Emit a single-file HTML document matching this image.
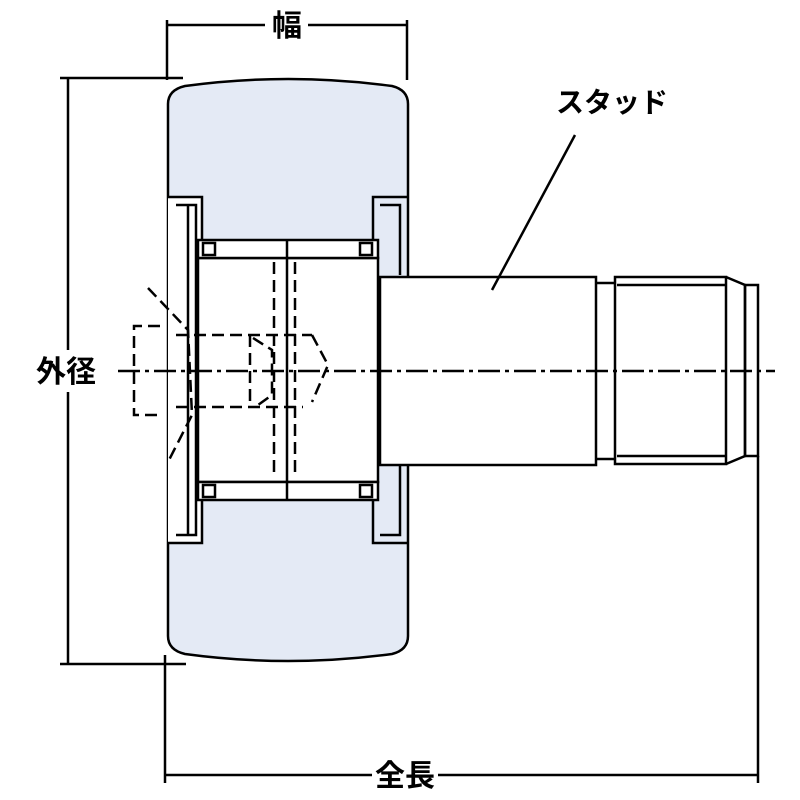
<!DOCTYPE html>
<html><head><meta charset="utf-8"><style>html,body{margin:0;padding:0;background:#fff}svg{display:block}</style></head>
<body>
<svg width="800" height="800" viewBox="0 0 800 800" xmlns="http://www.w3.org/2000/svg">
<g fill="none" stroke="#000" stroke-width="2.5">
<!-- roller -->
<path d="M168,104 Q168,90 185,86 Q288,72 392,86 Q408,90 408,104 L408,636 Q408,650 392,654 Q288,668 185,654 Q168,650 168,636 Z" fill="#e4eaf5"/>
<!-- left flange -->
<rect x="168" y="197" width="34" height="346" fill="#fff" stroke="none"/>
<path d="M168,197 L202,197 L202,543 L168,543"/>
<line x1="188" y1="205" x2="188" y2="535"/>
<path d="M176,205 L196,205 L196,535 L176,535"/>
<!-- inner bore white -->
<rect x="198" y="258" width="180" height="224" fill="#fff"/>
<!-- right flange -->
<path d="M408,197 L373,197 L373,258 M373,482 L373,543 L408,543"/>
<path d="M380,205 L400,205 L400,275 M400,465 L400,535 L380,535"/>
<!-- cage rows -->
<rect x="198" y="240" width="180" height="18" fill="#fff"/>
<rect x="198" y="482" width="180" height="18" fill="#fff"/>
<rect x="203" y="243" width="12" height="12"/><rect x="360" y="243" width="12" height="12"/>
<rect x="203" y="485" width="12" height="12"/><rect x="360" y="485" width="12" height="12"/>
<line x1="287" y1="240" x2="287" y2="500"/>
<!-- stud -->
<rect x="380" y="277" width="216" height="188" fill="#fff"/>
<!-- thread -->
<path d="M596,283 L616,283 M596,459 L616,459"/>
<rect x="615" y="277" width="111" height="187" fill="#fff"/>
<line x1="617" y1="285" x2="726" y2="285"/><line x1="617" y1="456" x2="726" y2="456"/>
<path d="M726,277 L745,285 L745,456 L726,464"/>
<rect x="745" y="285" width="13" height="171"/>
<!-- dimension lines -->
<line x1="167" y1="20" x2="167" y2="80"/><line x1="407" y1="20" x2="407" y2="80"/>
<line x1="167" y1="25" x2="265" y2="25"/><line x1="308" y1="25" x2="407" y2="25"/>
<line x1="60" y1="78" x2="183" y2="78"/><line x1="60" y1="664" x2="186" y2="664"/>
<line x1="68" y1="78" x2="68" y2="350"/><line x1="68" y1="392" x2="68" y2="664"/>
<line x1="165" y1="655" x2="165" y2="783"/><line x1="758" y1="456" x2="758" y2="783"/>
<line x1="165" y1="775" x2="372" y2="775"/><line x1="438" y1="775" x2="758" y2="775"/>
<line x1="575" y1="135" x2="492" y2="290"/>
</g>
<g fill="none" stroke="#000" stroke-width="2.5" stroke-dasharray="12,6">
<line x1="118" y1="371" x2="775" y2="371" stroke-dasharray="22,5,4,5"/>
<path d="M148,288 L188,330 L192,415 L168,462"/>
<path d="M160,326 L134,326 L134,415 L160,415"/>
<line x1="176" y1="335" x2="312" y2="335"/><line x1="176" y1="407" x2="303" y2="407"/>
<path d="M250,335 L250,407"/>
<path d="M253,338 L272,350 L272,395 L258,405"/>
<path d="M312,335 L328,365 L312,402"/>
<line x1="274" y1="262" x2="274" y2="478"/><line x1="295" y1="262" x2="295" y2="478"/>
</g>
<g font-family="'Liberation Sans','Noto Sans CJK JP',sans-serif" font-size="30" font-weight="bold" fill="#000" text-anchor="middle">
<text x="287" y="36">幅</text>
<text x="66" y="382">外径</text>
<text x="405" y="786">全長</text>
<text x="612" y="112" font-size="28">スタッド</text>
</g>
</svg>
</body></html>
